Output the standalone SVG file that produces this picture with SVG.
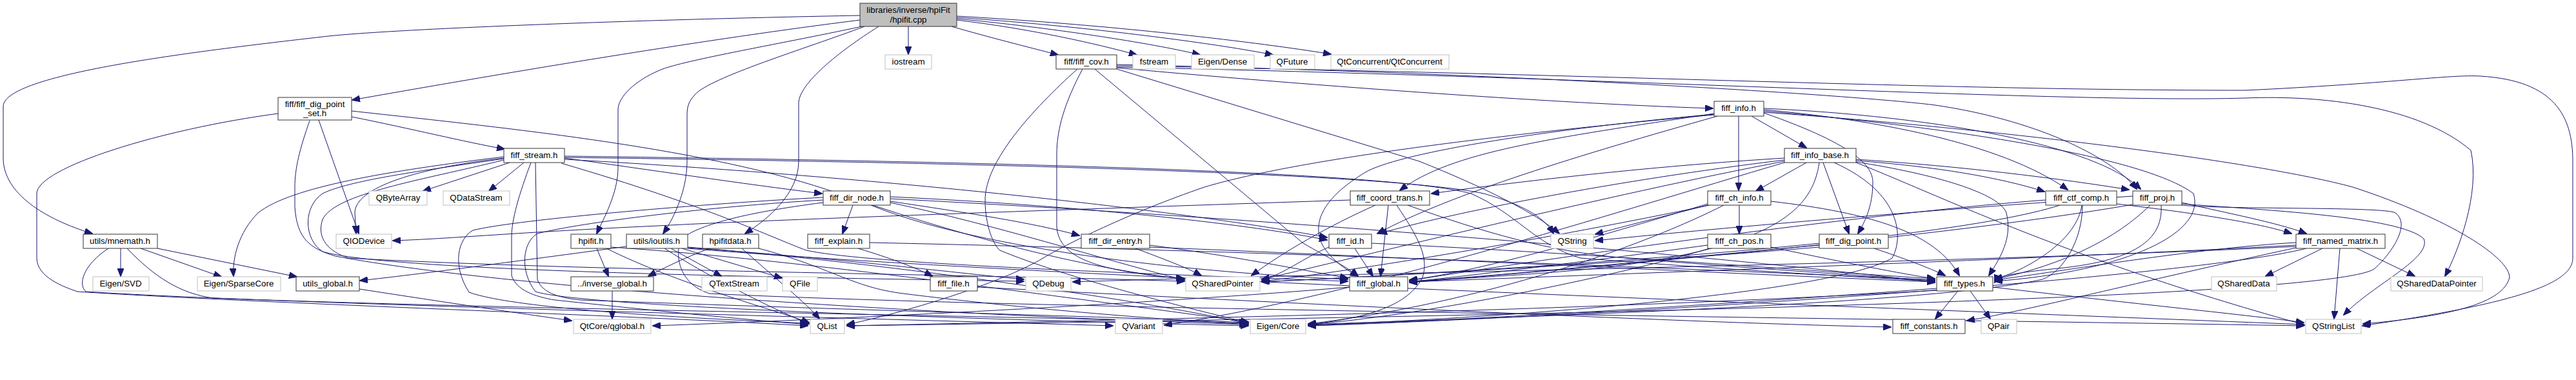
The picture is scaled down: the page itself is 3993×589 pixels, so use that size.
<svg xmlns="http://www.w3.org/2000/svg" width="3993" height="589" viewBox="0 0 3993 589">
<style>
.n rect{fill:#fff;stroke:#333;stroke-width:1}
.x rect{fill:#fff;stroke:#bfbfbf;stroke-width:1}
.r rect{fill:#bfbfbf;stroke:#333;stroke-width:1}
text{font-family:"Liberation Sans",Arial,Helvetica,sans-serif;font-size:13.3px;text-anchor:middle;fill:#000}
#edges path{fill:none;stroke:#191970;stroke-width:1;marker-end:url(#a)}
</style>
<defs>
<marker id="a" markerUnits="userSpaceOnUse" markerWidth="13" markerHeight="10" refX="12" refY="5" orient="auto"><path d="M0,0 L13,5 L0,10 z" fill="#191970" stroke="#191970"/></marker>
</defs>
<rect width="3993" height="589" fill="#fff"/>
<g id="edges">
<path d="M1408,41 L1408,84"/>
<path d="M1475,41 C1530,57 1590,72 1640,85"/>
<path d="M1483,31 C1600,45 1700,68 1762,85"/>
<path d="M1483,29 C1650,45 1800,70 1860,85"/>
<path d="M1483,27 C1700,42 1900,70 1973,85"/>
<path d="M1483,25 C1750,40 1980,70 2063,84"/>
<path d="M1333,31 C1100,60 800,110 546,155"/>
<path d="M1333,24 C1000,30 600,45 500,57 C300,80 5,115 5,165 L5,245 C5,300 70,340 143,362"/>
<path d="M1336,41 C1200,70 1050,95 1020,110 C985,125 958,150 958,170 L958,260 C958,300 935,340 925,362"/>
<path d="M1340,41 C1250,75 1100,120 1077,147 C1067,158 1065,165 1065,180 L1065,250 C1065,300 1040,345 1028,362"/>
<path d="M1362,41 C1300,80 1238,130 1238,160 L1238,250 C1238,300 1190,340 1155,362"/>
<path d="M545,181 C640,200 720,220 782,231"/>
<path d="M494,186 L556,362"/>
<path d="M545,172 C800,200 1100,230 1300,300 C1500,370 1700,420 1836,432"/>
<path d="M431,176 C250,200 57,260 57,300 L57,400 C57,430 100,445 120,452 C400,470 1000,490 1252,505"/>
<path d="M480,187 C465,230 457,260 457,290 L457,320 C460,370 480,385 520,397 C800,450 1500,490 1933,503"/>
<path d="M187,385 L187,428"/>
<path d="M218,385 L343,429"/>
<path d="M244,385 L460,429"/>
<path d="M168,385 C130,410 120,440 133,452 C400,470 1400,495 1725,505"/>
<path d="M197,385 C240,430 280,455 330,462 C800,480 1600,490 1935,501"/>
<path d="M790,252 L656,296"/>
<path d="M812,252 L758,296"/>
<path d="M781,245 C650,260 550,290 550,330 L552,362"/>
<path d="M781,243 C600,265 450,290 400,330 C370,360 360,400 362,428"/>
<path d="M875,245 C1000,262 1150,285 1274,300"/>
<path d="M823,252 C805,300 793,340 793,367 L793,427 C800,450 830,460 860,465 C1000,480 1150,495 1252,503"/>
<path d="M830,252 L833,433 C840,455 870,462 900,465 C1300,480 1700,490 1933,500"/>
<path d="M781,246 C650,265 540,280 500,300 C470,320 470,370 500,390 C600,420 1200,430 1587,436"/>
<path d="M781,248 C650,280 520,300 500,340 C490,370 510,390 540,400 C900,420 1500,425 1836,436"/>
<path d="M875,242 C1500,250 2150,265 2280,300 C2350,330 2380,380 2450,400 C2700,420 2900,430 2999,436"/>
<path d="M875,247 C1300,270 1800,320 2057,368"/>
<path d="M875,244 C1500,252 2150,268 2300,300 C2370,320 2395,340 2408,362"/>
<path d="M870,253 C1100,320 1200,370 1250,388 C1350,410 1800,425 2089,436"/>
<path d="M1322,318 L1306,362"/>
<path d="M1380,312 C1500,330 1600,345 1673,365"/>
<path d="M1380,305 C1700,320 1950,350 2057,372"/>
<path d="M1380,308 C2000,340 2700,400 2999,438"/>
<path d="M1380,314 C1550,350 1700,400 1836,434"/>
<path d="M1350,318 C1500,380 1800,420 2089,433"/>
<path d="M1276,306 C1100,315 800,340 733,357 C710,370 700,410 727,453 C800,480 1100,495 1252,501"/>
<path d="M1276,310 C1100,320 900,345 833,362 C810,375 805,420 830,452 C900,475 1500,495 1935,505"/>
<path d="M1276,314 C1150,330 1080,350 1057,370 C1045,390 1050,440 1100,455 C1600,480 3000,495 3571,505"/>
<path d="M1330,385 C1380,400 1420,415 1445,428"/>
<path d="M1348,376 C2000,390 2700,420 2999,434"/>
<path d="M1760,385 C1800,400 1840,415 1862,427"/>
<path d="M1782,380 C1900,395 2000,415 2089,431"/>
<path d="M1782,383 C2200,400 2700,425 2999,437"/>
<path d="M925,385 L943,428"/>
<path d="M940,385 C1050,440 1200,480 1254,500"/>
<path d="M947,383 C1200,400 1500,440 1935,499"/>
<path d="M971,382 C800,405 650,425 558,435"/>
<path d="M1040,385 L1118,428"/>
<path d="M1057,385 L1212,431"/>
<path d="M1066,383 C1400,410 1800,470 1935,502"/>
<path d="M1066,385 C1600,430 3000,480 3571,503"/>
<path d="M1066,384 C1300,400 1500,425 1587,433"/>
<path d="M1030,385 C1100,430 1200,480 1254,502"/>
<path d="M1100,385 C1060,400 1030,415 1005,428"/>
<path d="M1176,385 C1290,415 1320,445 1400,455 C1600,480 1800,495 1935,503"/>
<path d="M1150,385 C1200,430 1250,470 1270,494"/>
<path d="M1678,107 C1650,160 1638,200 1638,240 L1638,350 C1640,400 1700,420 1835,432"/>
<path d="M1670,107 C1600,170 1527,250 1527,310 C1527,350 1540,380 1550,388 C1650,430 1850,480 1935,500"/>
<path d="M1697,107 L2020,377 C2060,400 2090,415 2105,428"/>
<path d="M1731,107 L2200,250 C2300,290 2380,330 2417,362"/>
<path d="M1731,105 C2000,130 2400,160 2655,168"/>
<path d="M1731,100 C2400,115 2900,150 3000,163 C3150,185 3270,240 3312,293"/>
<path d="M1731,102 C2500,115 3000,140 3480,140 C3700,130 3800,115 3845,118 C3960,125 3988,180 3988,250 L3988,400 C3988,440 3900,470 3662,505"/>
<path d="M1731,104 C2500,120 3200,160 3480,152 C3600,147 3750,165 3830,233 C3845,300 3810,390 3790,428"/>
<path d="M2152,318 L2140,428"/>
<path d="M2165,318 C2200,370 2215,400 2205,430 C2180,480 2100,495 2028,503"/>
<path d="M2132,318 C2060,350 1990,390 1940,427"/>
<path d="M2093,310 C1800,320 1200,340 1020,350 C800,360 700,370 609,373"/>
<path d="M2182,318 C2300,360 2400,390 2520,400 C2700,415 2900,428 2999,435"/>
<path d="M2100,385 L2128,428"/>
<path d="M2060,383 C2020,400 1990,425 1956,434"/>
<path d="M2126,377 C2500,395 2800,420 2999,432"/>
<path d="M2715,180 L2800,229"/>
<path d="M2695,180 L2695,295"/>
<path d="M2734,175 C2883,227 2903,260 2903,283 C2903,320 2890,345 2880,362"/>
<path d="M2657,176 C2400,215 2250,235 2170,295"/>
<path d="M2662,180 C2450,240 2250,300 2135,362"/>
<path d="M2734,170 C2900,185 3100,220 3205,294"/>
<path d="M2734,168 C3000,180 3250,225 3318,293"/>
<path d="M2734,172 C3000,195 3320,240 3400,300 C3420,360 3300,420 3092,436"/>
<path d="M2734,174 C3100,200 3500,250 3647,290 C3800,340 3890,400 3890,430 C3880,470 3800,490 3663,502"/>
<path d="M2657,178 C2300,210 2000,250 1867,290 C1750,330 1650,380 1617,400 C1550,440 1400,485 1313,503"/>
<path d="M2657,177 C2400,200 2180,235 2120,265 C2060,300 2030,340 2050,380 C2065,405 2090,420 2105,428"/>
<path d="M2800,252 L2722,296"/>
<path d="M2826,252 L2866,362"/>
<path d="M2766,245 C2600,255 2400,275 2219,300"/>
<path d="M2766,248 C2500,280 2250,330 2138,362"/>
<path d="M2820,252 C2810,320 2760,380 2500,413 C2400,425 2250,432 2185,437"/>
<path d="M2766,250 C2500,300 2100,400 1956,433"/>
<path d="M2877,247 C3000,255 3150,270 3300,294"/>
<path d="M2877,249 C3000,258 3100,275 3169,297"/>
<path d="M2877,251 C3000,270 3100,300 3110,330 C3120,370 3100,400 3083,427"/>
<path d="M2843,252 C2950,300 2950,370 2933,400 C2850,450 2400,490 2028,504"/>
<path d="M2877,252 C3000,300 3200,400 3560,500 C3565,502 3568,503 3572,504"/>
<path d="M2766,252 C2500,330 2100,460 1805,504"/>
<path d="M2696,318 L2696,362"/>
<path d="M2647,318 C2580,335 2520,350 2473,363"/>
<path d="M2745,312 C2900,330 3000,360 3037,427"/>
<path d="M2647,316 C2500,360 2300,420 2185,434"/>
<path d="M2650,318 C2400,370 2100,420 1956,436"/>
<path d="M2672,318 C2550,380 2300,470 2028,502"/>
<path d="M3306,304 C3000,325 2700,350 2473,373"/>
<path d="M2745,383 C2850,405 2950,425 2999,432"/>
<path d="M2647,380 C2500,400 2300,425 2185,437"/>
<path d="M2650,385 C2500,430 2200,490 2028,503"/>
<path d="M2905,385 C2950,400 2990,415 3015,427"/>
<path d="M2820,380 C2600,400 2300,430 2185,436"/>
<path d="M2820,383 C2500,410 2100,430 1956,437"/>
<path d="M3281,316 C3400,330 3500,345 3552,362"/>
<path d="M3227,318 C3220,370 3150,415 3092,433"/>
<path d="M3228,318 C3228,370 3200,420 3166,433 C3000,470 2400,490 2028,503"/>
<path d="M3171,310 C2900,330 2400,400 2185,435"/>
<path d="M3193,318 C3000,380 2300,420 1956,437"/>
<path d="M3382,314 C3450,330 3530,345 3575,362"/>
<path d="M3333,318 C3280,370 3200,410 3092,433"/>
<path d="M3350,318 C3352,360 3330,400 3200,415 C3100,425 3095,430 3092,438"/>
<path d="M3306,317 C3000,370 2400,420 2185,438"/>
<path d="M3382,316 C3500,325 3720,335 3757,370 C3770,400 3680,440 3633,488"/>
<path d="M3382,318 C3450,325 3700,320 3713,330 C3740,350 3700,400 3680,417 C3600,470 2000,495 1313,505"/>
<path d="M3600,385 L3512,428"/>
<path d="M3653,385 L3743,428"/>
<path d="M3627,385 L3618,494"/>
<path d="M3559,376 C3400,385 3200,420 3092,434"/>
<path d="M3559,380 C3200,400 2500,425 2185,437"/>
<path d="M3575,385 C3400,430 2500,490 2028,505"/>
<path d="M3559,382 C3000,410 2000,425 1663,437"/>
<path d="M3035,451 L3000,494"/>
<path d="M3054,451 L3085,494"/>
<path d="M3089,445 C3300,470 3500,490 3571,500"/>
<path d="M3002,447 C2700,470 2300,495 2028,505"/>
<path d="M3002,450 C2500,480 1800,495 1313,505"/>
<path d="M1515,445 C2000,470 2600,500 2931,507"/>
<path d="M3559,384 C3300,440 3150,480 3049,497"/>
<path d="M2092,445 C1800,470 1300,495 1012,505"/>
<path d="M557,448 C700,470 800,485 886,497"/>
<path d="M949,451 L949,494"/>
</g>
<g id="n_root" class="r"><rect x="1333" y="5" width="150" height="36"/><text x="1408" y="20">libraries/inverse/hpiFit</text><text x="1408" y="35">/hpifit.cpp</text></g>
<g id="n_iostream" class="x"><rect x="1372" y="85" width="72" height="22"/><text x="1408" y="100">iostream</text></g>
<g id="n_fiff_cov" class="n"><rect x="1637" y="85" width="94" height="22"/><text x="1684" y="100">fiff/fiff_cov.h</text></g>
<g id="n_fstream" class="x"><rect x="1756" y="85" width="66" height="22"/><text x="1789" y="100">fstream</text></g>
<g id="n_eigen_dense" class="x"><rect x="1847" y="85" width="97" height="22"/><text x="1895" y="100">Eigen/Dense</text></g>
<g id="n_qfuture" class="x"><rect x="1969" y="85" width="69" height="22"/><text x="2003" y="100">QFuture</text></g>
<g id="n_qtconcurrent" class="x"><rect x="2063" y="85" width="183" height="22"/><text x="2154" y="100">QtConcurrent/QtConcurrent</text></g>
<g id="n_fiff_dig_point_set" class="n"><rect x="431" y="151" width="114" height="35"/><text x="488" y="166">fiff/fiff_dig_point</text><text x="488" y="180">_set.h</text></g>
<g id="n_fiff_info" class="n"><rect x="2657" y="157" width="77" height="23"/><text x="2695" y="172">fiff_info.h</text></g>
<g id="n_fiff_stream" class="n"><rect x="781" y="230" width="94" height="22"/><text x="828" y="245">fiff_stream.h</text></g>
<g id="n_fiff_info_base" class="n"><rect x="2766" y="230" width="111" height="22"/><text x="2821" y="245">fiff_info_base.h</text></g>
<g id="n_qbytearray" class="x"><rect x="572" y="296" width="90" height="22"/><text x="617" y="311">QByteArray</text></g>
<g id="n_qdatastream" class="x"><rect x="687" y="296" width="103" height="22"/><text x="738" y="311">QDataStream</text></g>
<g id="n_fiff_dir_node" class="n"><rect x="1276" y="296" width="104" height="22"/><text x="1328" y="311">fiff_dir_node.h</text></g>
<g id="n_fiff_coord_trans" class="n"><rect x="2093" y="296" width="123" height="22"/><text x="2154" y="311">fiff_coord_trans.h</text></g>
<g id="n_fiff_ch_info" class="n"><rect x="2647" y="296" width="98" height="22"/><text x="2696" y="311">fiff_ch_info.h</text></g>
<g id="n_fiff_ctf_comp" class="n"><rect x="3171" y="296" width="110" height="22"/><text x="3226" y="311">fiff_ctf_comp.h</text></g>
<g id="n_fiff_proj" class="n"><rect x="3306" y="296" width="76" height="22"/><text x="3344" y="311">fiff_proj.h</text></g>
<g id="n_mnemath" class="n"><rect x="129" y="363" width="115" height="22"/><text x="186" y="378">utils/mnemath.h</text></g>
<g id="n_qiodevice" class="x"><rect x="521" y="363" width="86" height="22"/><text x="564" y="378">QIODevice</text></g>
<g id="n_hpifit_h" class="n"><rect x="885" y="363" width="62" height="22"/><text x="916" y="378">hpifit.h</text></g>
<g id="n_ioutils" class="n"><rect x="971" y="363" width="95" height="22"/><text x="1018" y="378">utils/ioutils.h</text></g>
<g id="n_hpifitdata" class="n"><rect x="1089" y="363" width="87" height="22"/><text x="1132" y="378">hpifitdata.h</text></g>
<g id="n_fiff_explain" class="n"><rect x="1252" y="363" width="96" height="22"/><text x="1300" y="378">fiff_explain.h</text></g>
<g id="n_fiff_dir_entry" class="n"><rect x="1676" y="363" width="106" height="22"/><text x="1729" y="378">fiff_dir_entry.h</text></g>
<g id="n_fiff_id" class="n"><rect x="2060" y="363" width="66" height="22"/><text x="2093" y="378">fiff_id.h</text></g>
<g id="n_qstring" class="x"><rect x="2404" y="363" width="66" height="22"/><text x="2437" y="378">QString</text></g>
<g id="n_fiff_ch_pos" class="n"><rect x="2647" y="363" width="98" height="22"/><text x="2696" y="378">fiff_ch_pos.h</text></g>
<g id="n_fiff_dig_point" class="n"><rect x="2820" y="363" width="107" height="22"/><text x="2873" y="378">fiff_dig_point.h</text></g>
<g id="n_fiff_named_matrix" class="n"><rect x="3559" y="363" width="138" height="22"/><text x="3628" y="378">fiff_named_matrix.h</text></g>
<g id="n_eigen_svd" class="x"><rect x="144" y="429" width="87" height="22"/><text x="187" y="444">Eigen/SVD</text></g>
<g id="n_sparsecore" class="x"><rect x="306" y="429" width="129" height="22"/><text x="370" y="444">Eigen/SparseCore</text></g>
<g id="n_utils_global" class="n"><rect x="459" y="429" width="98" height="22"/><text x="508" y="444">utils_global.h</text></g>
<g id="n_inverse_global" class="n"><rect x="885" y="429" width="128" height="22"/><text x="949" y="444">../inverse_global.h</text></g>
<g id="n_qtextstream" class="x"><rect x="1088" y="429" width="101" height="22"/><text x="1138" y="444">QTextStream</text></g>
<g id="n_qfile" class="x"><rect x="1213" y="429" width="54" height="22"/><text x="1240" y="444">QFile</text></g>
<g id="n_fiff_file" class="n"><rect x="1442" y="429" width="73" height="22"/><text x="1478" y="444">fiff_file.h</text></g>
<g id="n_qdebug" class="x"><rect x="1590" y="429" width="70" height="22"/><text x="1625" y="444">QDebug</text></g>
<g id="n_qsharedpointer" class="x"><rect x="1838" y="429" width="115" height="22"/><text x="1895" y="444">QSharedPointer</text></g>
<g id="n_fiff_global" class="n"><rect x="2092" y="429" width="90" height="22"/><text x="2137" y="444">fiff_global.h</text></g>
<g id="n_fiff_types" class="n"><rect x="3002" y="429" width="87" height="22"/><text x="3045" y="444">fiff_types.h</text></g>
<g id="n_qshareddata" class="x"><rect x="3428" y="429" width="101" height="22"/><text x="3478" y="444">QSharedData</text></g>
<g id="n_qshareddatapointer" class="x"><rect x="3706" y="429" width="142" height="22"/><text x="3777" y="444">QSharedDataPointer</text></g>
<g id="n_qglobal" class="x"><rect x="889" y="495" width="120" height="22"/><text x="949" y="510">QtCore/qglobal.h</text></g>
<g id="n_qlist" class="x"><rect x="1256" y="495" width="53" height="22"/><text x="1282" y="510">QList</text></g>
<g id="n_qvariant" class="x"><rect x="1729" y="495" width="73" height="22"/><text x="1765" y="510">QVariant</text></g>
<g id="n_eigen_core" class="x"><rect x="1938" y="495" width="86" height="22"/><text x="1981" y="510">Eigen/Core</text></g>
<g id="n_fiff_constants" class="n"><rect x="2934" y="495" width="112" height="22"/><text x="2990" y="510">fiff_constants.h</text></g>
<g id="n_qpair" class="x"><rect x="3071" y="495" width="55" height="22"/><text x="3098" y="510">QPair</text></g>
<g id="n_qstringlist" class="x"><rect x="3574" y="495" width="86" height="22"/><text x="3617" y="510">QStringList</text></g>
</svg>
